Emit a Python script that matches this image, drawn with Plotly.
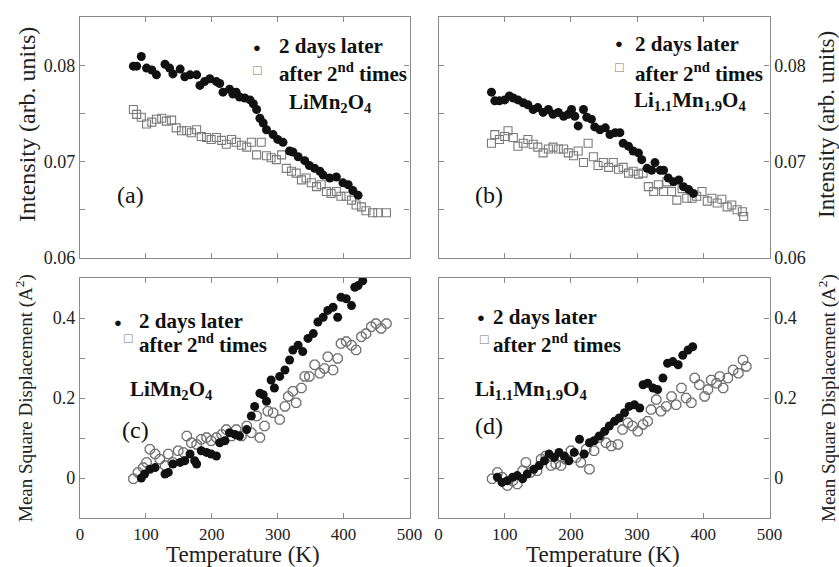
import plotly.graph_objects as go

W, H = 839, 567

# ---------------- data ----------------
# (a) LiMn2O4 intensity
a_fill_T = [81, 86, 93, 101, 109, 116, 129, 136, 141, 152, 159, 167, 177, 182, 189, 197, 207, 212, 217, 227,
            232, 237, 242, 250, 258, 263, 268, 273, 278, 283, 293, 300, 308, 318, 323, 331, 341, 348, 356, 364,
            369, 379, 389, 399, 407, 414, 422]
a_fill_I = [0.0799, 0.0799, 0.0809, 0.0797, 0.0795, 0.0790, 0.0801, 0.0797, 0.0791, 0.0796, 0.0788, 0.0790,
            0.0790, 0.0779, 0.0783, 0.0786, 0.0783, 0.0781, 0.0772, 0.0775, 0.0770, 0.0772, 0.0767, 0.0766,
            0.0764, 0.0760, 0.0754, 0.0745, 0.0740, 0.0733, 0.0728, 0.0723, 0.0720, 0.0711, 0.0710, 0.0705,
            0.0701, 0.0696, 0.0693, 0.0690, 0.0686, 0.0683, 0.0684, 0.0678, 0.0676, 0.0670, 0.0665]
a_open_T = [81, 86, 93, 101, 109, 116, 124, 131, 139, 146, 154, 162, 169, 177, 184, 192, 199, 207, 215, 222,
            230, 237, 245, 253, 260, 268, 275, 283, 290, 298, 306, 313, 321, 328, 336, 343, 351, 359, 366, 374,
            381, 389, 396, 404, 412, 419, 427, 434, 444, 452, 465]
a_open_I = [0.0754, 0.0749, 0.0746, 0.0739, 0.0741, 0.0744, 0.0745, 0.0742, 0.0743, 0.0735, 0.0732, 0.0732,
            0.0730, 0.0733, 0.0726, 0.0725, 0.0723, 0.0725, 0.0722, 0.0718, 0.0723, 0.0720, 0.0717, 0.0715,
            0.0720, 0.0707, 0.0720, 0.0706, 0.0704, 0.0702, 0.0707, 0.0693, 0.0690, 0.0688, 0.0681, 0.0683,
            0.0678, 0.0674, 0.0676, 0.0669, 0.0667, 0.0669, 0.0664, 0.0664, 0.0660, 0.0655, 0.0653, 0.0649,
            0.0647, 0.0647, 0.0647]

# (b) Li1.1Mn1.9O4 intensity
b_fill_T = [80, 85, 92, 100, 107, 113, 120, 128, 135, 143, 150, 158, 166, 173, 181, 189, 196, 201, 206, 211,
            219, 224, 231, 236, 244, 252, 259, 267, 274, 279, 287, 294, 302, 307, 315, 322, 327, 335, 340, 347,
            355, 363, 370, 378, 385]
b_fill_I = [0.0772, 0.0763, 0.0763, 0.0764, 0.0768, 0.0766, 0.0764, 0.0761, 0.0759, 0.0754, 0.0756, 0.0751,
            0.0754, 0.0749, 0.0751, 0.0747, 0.0749, 0.0754, 0.0747, 0.0737, 0.0754, 0.0746, 0.0744, 0.0736,
            0.0733, 0.0735, 0.0728, 0.0730, 0.0730, 0.0719, 0.0716, 0.0711, 0.0709, 0.0702, 0.0693, 0.0691,
            0.0699, 0.0691, 0.0691, 0.0683, 0.0679, 0.0681, 0.0674, 0.0671, 0.0667]
b_open_T = [80, 85, 92, 100, 105, 113, 120, 128, 135, 143, 150, 158, 166, 173, 181, 189, 196, 204, 211, 219,
            226, 234, 241, 249, 257, 264, 272, 279, 287, 294, 302, 309, 317, 325, 332, 340, 345, 352, 360, 368,
            375, 383, 390, 398, 406, 413, 421, 428, 436, 443, 451, 459, 461]
b_open_I = [0.0719, 0.0728, 0.0723, 0.0726, 0.0732, 0.0725, 0.0716, 0.0719, 0.0723, 0.0718, 0.0715, 0.0709,
            0.0713, 0.0715, 0.0713, 0.0713, 0.0709, 0.0706, 0.0711, 0.0699, 0.0719, 0.0705, 0.0696, 0.0699,
            0.0694, 0.0699, 0.0692, 0.0694, 0.0688, 0.0690, 0.0687, 0.0688, 0.0674, 0.0669, 0.0676, 0.0669,
            0.0679, 0.0669, 0.0660, 0.0672, 0.0662, 0.0662, 0.0664, 0.0669, 0.0659, 0.0662, 0.0657, 0.0661,
            0.0653, 0.0655, 0.0650, 0.0648, 0.0643]

# (c) LiMn2O4 mean square displacement
c_fill_T = [93, 98, 106, 114, 129, 134, 141, 152, 159, 167, 174, 177, 184, 192, 199, 207, 212, 220, 227, 235,
            242, 253, 260, 265, 273, 278, 283, 290, 295, 303, 311, 318, 323, 331, 338, 346, 354, 361, 369, 376,
            384, 391, 396, 404, 412, 417, 422, 429]
c_fill_M = [0.000, 0.010, 0.022, 0.026, 0.010, 0.014, 0.035, 0.039, 0.043, 0.060, 0.043, 0.035, 0.068, 0.064,
            0.060, 0.055, 0.088, 0.093, 0.113, 0.109, 0.105, 0.121, 0.155, 0.179, 0.212, 0.208, 0.192, 0.245,
            0.225, 0.254, 0.270, 0.295, 0.320, 0.332, 0.316, 0.349, 0.361, 0.390, 0.402, 0.419, 0.427, 0.402,
            0.452, 0.448, 0.431, 0.477, 0.481, 0.493]
c_open_T = [81, 88, 96, 101, 106, 114, 121, 129, 134, 141, 149, 157, 162, 169, 177, 184, 192, 199, 207, 215,
            222, 230, 237, 245, 253, 260, 268, 273, 280, 285, 293, 303, 311, 316, 323, 328, 336, 341, 348, 356,
            364, 371, 376, 384, 391, 396, 404, 412, 419, 427, 434, 442, 449, 457, 465]
c_open_M = [-0.002, 0.014, 0.026, 0.039, 0.072, 0.060, 0.047, 0.031, 0.060, 0.039, 0.068, 0.064, 0.105,
            0.088, 0.084, 0.097, 0.101, 0.093, 0.101, 0.109, 0.121, 0.105, 0.121, 0.105, 0.130, 0.113, 0.155,
            0.101, 0.130, 0.167, 0.163, 0.146, 0.179, 0.204, 0.217, 0.188, 0.225, 0.254, 0.254, 0.283, 0.262,
            0.274, 0.303, 0.270, 0.299, 0.336, 0.341, 0.332, 0.320, 0.353, 0.361, 0.378, 0.386, 0.374, 0.386]

# (d) Li1.1Mn1.9O4 mean square displacement
d_fill_T = [89, 96, 104, 112, 119, 127, 134, 144, 152, 160, 167, 175, 182, 190, 197, 205, 213, 220, 228, 235,
            243, 251, 258, 266, 273, 281, 288, 296, 304, 309, 316, 324, 331, 339, 346, 354, 362, 369, 377, 384]
d_fill_M = [0.002, -0.011, -0.007, 0.002, 0.006, -0.002, 0.010, 0.022, 0.031, 0.043, 0.060, 0.051, 0.064,
            0.055, 0.043, 0.064, 0.097, 0.060, 0.088, 0.093, 0.105, 0.117, 0.130, 0.142, 0.150, 0.163, 0.179,
            0.183, 0.175, 0.233, 0.237, 0.225, 0.221, 0.250, 0.287, 0.291, 0.283, 0.307, 0.320, 0.328]
d_open_T = [81, 89, 96, 104, 112, 119, 127, 132, 139, 149, 155, 162, 170, 177, 185, 192, 200, 208, 215, 223,
            228, 235, 243, 253, 261, 271, 278, 286, 293, 301, 309, 316, 321, 329, 336, 344, 352, 359, 367, 374,
            382, 387, 394, 402, 407, 412, 420, 425, 430, 437, 445, 453, 460, 465]
d_open_M = [-0.002, 0.014, 0.002, -0.019, -0.007, -0.015, 0.018, 0.039, 0.014, 0.018, 0.047, 0.055, 0.031,
            0.035, 0.031, 0.047, 0.068, 0.051, 0.039, 0.072, 0.022, 0.068, 0.101, 0.088, 0.080, 0.084, 0.121,
            0.138, 0.130, 0.117, 0.134, 0.142, 0.171, 0.196, 0.167, 0.179, 0.204, 0.183, 0.225, 0.200, 0.188,
            0.250, 0.233, 0.204, 0.221, 0.245, 0.237, 0.254, 0.225, 0.250, 0.270, 0.262, 0.295, 0.279]

x_ticks = [0, 100, 200, 300, 400, 500]
legend_fill = "2 days later"
legend_open = "after 2<sup>nd</sup> times"
formula_a = "LiMn<sub>2</sub>O<sub>4</sub>"
formula_b = "Li<sub>1.1</sub>Mn<sub>1.9</sub>O<sub>4</sub>"

# ---------------- styling ----------------
FONT = "Liberation Serif, Times New Roman, serif"
FRAME = "#8a8a8a"
MK_FILL = dict(symbol="circle", size=9, color="#111111", line=dict(width=0))
MK_OPEN = dict(symbol="square-open", size=8, color="#7a7a7a", line=dict(width=1.1, color="#7a7a7a"))
MK_OPEN_MSD = dict(symbol="octagon-open", size=10, color="#6f6f6f", line=dict(width=1.3, color="#6f6f6f"))
MK_FILL_MSD = dict(symbol="circle", size=9, color="#111111", line=dict(width=0))


def px(x):
    return x / W


def py(y):
    return 1 - y / H


fig = go.Figure()

panels = [
    ("x", "y", a_fill_T, a_fill_I, a_open_T, a_open_I, False),
    ("x2", "y2", b_fill_T, b_fill_I, b_open_T, b_open_I, False),
    ("x3", "y3", c_fill_T, c_fill_M, c_open_T, c_open_M, True),
    ("x4", "y4", d_fill_T, d_fill_M, d_open_T, d_open_M, True),
]
for xa, ya, fT, fV, oT, oV, msd in panels:
    fig.add_trace(go.Scatter(x=oT, y=oV, xaxis=xa, yaxis=ya, mode="markers",
                             marker=MK_OPEN_MSD if msd else MK_OPEN, showlegend=False))
    fig.add_trace(go.Scatter(x=fT, y=fV, xaxis=xa, yaxis=ya, mode="markers",
                             marker=MK_FILL_MSD if msd else MK_FILL, showlegend=False))

xl, xr = px(80), px(409.5)
xl2, xr2 = px(438.5), px(769.5)
yt_top, yb_top = py(17), py(258)
yt_bot, yb_bot = py(278), py(518)

common_axis = dict(showline=True, linecolor=FRAME, linewidth=1.2, mirror="ticks", ticks="inside",
                   ticklen=5, tickcolor=FRAME, tickwidth=1, showgrid=False, zeroline=False,
                   automargin=False, tickfont=dict(family=FONT, size=18, color="#222222"))

xcommon = dict(common_axis, range=[0, 500], tickvals=x_ticks,
               tickfont=dict(family=FONT, size=17, color="#222222"))
fig.update_layout(
    xaxis=dict(xcommon, domain=[xl, xr], anchor="y", showticklabels=False),
    xaxis2=dict(xcommon, domain=[xl2, xr2], anchor="y2", showticklabels=False),
    xaxis3=dict(xcommon, domain=[xl, xr], anchor="y3"),
    xaxis4=dict(xcommon, domain=[xl2, xr2], anchor="y4"),
    yaxis=dict(common_axis, domain=[yb_top, yt_top], anchor="x", range=[0.06, 0.085],
               tickvals=[0.06, 0.07, 0.08], ticktext=["0.06", "0.07", "0.08"],
               minor=dict(tickvals=[0.065, 0.075], ticks="inside", ticklen=5, tickcolor=FRAME)),
    yaxis2=dict(common_axis, domain=[yb_top, yt_top], anchor="x2", side="right", range=[0.06, 0.085],
                tickvals=[0.06, 0.07, 0.08], ticktext=["0.06", "0.07", "0.08"],
                minor=dict(tickvals=[0.065, 0.075], ticks="inside", ticklen=5, tickcolor=FRAME)),
    yaxis3=dict(common_axis, domain=[yb_bot, yt_bot], anchor="x3", range=[-0.1, 0.5],
                tickvals=[0, 0.2, 0.4], ticktext=["0", "0.2", "0.4"],
                minor=dict(tickvals=[0.1, 0.3], ticks="inside", ticklen=5, tickcolor=FRAME)),
    yaxis4=dict(common_axis, domain=[yb_bot, yt_bot], anchor="x4", side="right", range=[-0.1, 0.5],
                tickvals=[0, 0.2, 0.4], ticktext=["0", "0.2", "0.4"],
                minor=dict(tickvals=[0.1, 0.3], ticks="inside", ticklen=5, tickcolor=FRAME)),
)

ann = []


def text(x, y, t, size=20, bold=False, xanchor="left", angle=0, color="#111111"):
    if bold:
        t = "<b>" + t + "</b>"
    ann.append(dict(x=px(x), y=py(y), xref="paper", yref="paper", text=t, showarrow=False,
                    xanchor=xanchor, yanchor="middle", textangle=angle,
                    font=dict(family=FONT, size=size, color=color)))


# axis titles
text(27, 125, "Intensity (arb. units)", size=24, xanchor="center", angle=-90, color="#222222")
text(827, 125, "Intensity (arb. units)", size=23, xanchor="center", angle=-90, color="#222222")
text(24, 398, "Mean Square Displacement (A<sup>2</sup>)", size=19, xanchor="center", angle=-90,
     color="#222222")
text(827, 398, "Mean Square Displacement (A<sup>2</sup>)", size=19, xanchor="center", angle=-90,
     color="#222222")
text(243, 554, "Temperature (K)", size=23, xanchor="center", color="#222222")
text(603, 554, "Temperature (K)", size=23, xanchor="center", color="#222222")

# panel legends / labels
legend_pos = [
    # dot x, dot y, text x, sq x, sq y, line1 y, line2 y, formula x, formula y, label x, label y, label, formula
    (257, 47, 277, 257, 70, 46, 73, 287, 103, 115, 195, "(a)", formula_a),
    (619, 43, 633, 619, 67, 44, 72, 632, 101, 473, 195, "(b)", formula_b),
    (118, 322, 137, 128, 338, 321, 343, 128, 390, 120, 430, "(c)", formula_a),
    (481, 317, 491, 484, 339, 317, 343, 473, 390, 473, 426, "(d)", formula_b),
]
for dx, dy, tx, sx, sy, l1, l2, fx, fy, lx, ly, lab, form in legend_pos:
    text(dx, dy, "●", size=13, xanchor="center")
    text(sx, sy, "□", size=14, xanchor="center", color="#777777")
    text(tx, l1, legend_fill, size=21, bold=True)
    text(tx, l2, legend_open, size=21, bold=True)
    text(fx, fy, form, size=21, bold=True)
    text(lx, ly, lab, size=24)

fig.update_layout(annotations=ann, width=W, height=H, margin=dict(l=0, r=0, t=0, b=0),
                  paper_bgcolor="white", plot_bgcolor="white", showlegend=False)

fig.write_html("out.html", config={"displayModeBar": False},
               post_script="document.body.style.margin='0';document.body.style.overflow='hidden';")
